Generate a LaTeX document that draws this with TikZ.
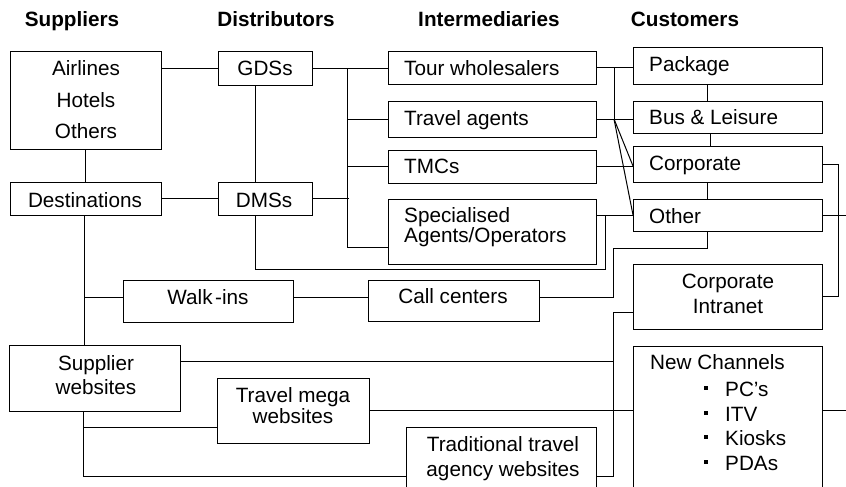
\documentclass[tikz,border=0pt]{standalone}
\usepackage{fontspec}
\setmainfont{Liberation Sans}
\usetikzlibrary{calc}
\newcommand{\dfont}{\fontsize{20.7}{24}\selectfont}
\newcommand{\tdbox}[5]{\node[box,minimum width={#4pt-#2pt},minimum height={#5pt-#3pt}] (#1) at ({(#2+#4)/2},{(#3+#5)/2}) {};}
\begin{document}
\begin{tikzpicture}[x=1pt,y=-1pt,
  box/.style={draw,line width=1pt,inner sep=0pt,outer sep=0pt,rectangle},
  conn/.style={line width=1pt},
  txt/.style={anchor=base,inner sep=0pt,font=\dfont},
  ttl/.style={anchor=base,inner sep=0pt,font=\dfont\bfseries},
  lt/.style={anchor=base west,inner sep=0pt,font=\dfont},
  bullet/.style={fill,inner sep=0pt,minimum width=3.6pt,minimum height=3.6pt}]
\path[use as bounding box] (0,0) rectangle (846,487);
\clip (0,0) rectangle (846,487);
% boxes
\tdbox{air}{10}{52}{161}{149}
\tdbox{dest}{10}{182}{161}{215}
\tdbox{gds}{218}{52}{312}{85}
\tdbox{dms}{218}{182}{312}{215}
\tdbox{tour}{388}{52}{596}{84}
\tdbox{ta}{388}{101}{596}{137}
\tdbox{tmc}{388}{150}{596}{183}
\tdbox{spec}{388}{199}{596}{264}
\tdbox{pkg}{633}{48}{822}{84}
\tdbox{bus}{633}{101}{822}{133}
\tdbox{corp}{633}{146}{822}{182}
\tdbox{other}{633}{199}{822}{231}
\tdbox{walk}{123}{280}{293}{322}
\tdbox{call}{368}{280}{539}{321}
\tdbox{intra}{633}{264}{822}{329}
\tdbox{sup}{9}{345}{180}{411}
\tdbox{mega}{217}{378}{369}{443}
\tdbox{trad}{406}{427}{596}{510}
\tdbox{newc}{633}{346}{822}{510}
% helper coordinates
\coordinate (gdsx) at (255,0);
\coordinate (ibus) at (347,0);
\coordinate (cbus) at (614,0);
\coordinate (split) at (614,119);
\coordinate (dturn) at (605,269);
\coordinate (oturn) at (613,248);
\coordinate (rturn) at (838,0);
\coordinate (wbot) at (613,476);
\coordinate (edge) at (846,0);
% titles
\node[ttl] (hsup) at (72,27) {Suppliers};
\node[ttl] (hdist) at (276,27) {Distributors};
\node[ttl] (hint) at (489,27) {Intermediaries};
\node[ttl] (hcus) at (685,27) {Customers};
% texts
\node[txt] (t1) at (86,76) {Airlines};
\node[txt] (t2) at (86,107) {Hotels};
\node[txt] (t3) at (86,138) {Others};
\node[txt] (t4) at (265,76) {GDSs};
\node[txt] (t5) at (85,207) {Destinations};
\node[txt] (t6) at (264,207) {DMSs};
\node[lt] (t7) at (404,76) {Tour wholesalers};
\node[lt] (t8) at (404,125) {Travel agents};
\node[lt] (t9) at (404,173) {TMCs};
\node[lt] (t10) at (404,222) {Specialised};
\node[lt] (t11) at (404,242) {Agents/Operators};
\node[lt] (t12) at (649,72) {Package};
\node[lt] (t13) at (649,124) {Bus \& Leisure};
\node[lt] (t14) at (649,170) {Corporate};
\node[lt] (t15) at (649,223) {Other};
\node[txt] (t16) at (208,304) {Walk\kern2.5pt-ins};
\node[txt] (t17) at (453,303) {Call centers};
\node[txt] (t18) at (728,288) {Corporate};
\node[txt] (t19) at (728,313) {Intranet};
\node[txt] (t20) at (96,370) {Supplier};
\node[txt] (t21) at (96,394) {websites};
\node[txt] (t22) at (293,402) {Travel mega};
\node[txt] (t23) at (293,423) {websites};
\node[txt] (t24) at (503,451) {Traditional travel};
\node[txt] (t25) at (503,476) {agency websites};
\node[lt] (t26) at (650,369) {New Channels};
\node[bullet] (b1) at (706,388) {};
\node[bullet] (b2) at (706,413) {};
\node[bullet] (b3) at (706,437) {};
\node[bullet] (b4) at (706,462) {};
\node[lt] (t27) at (725,396) {PC’s};
\node[lt] (t28) at (725,421) {ITV};
\node[lt] (t29) at (725,445) {Kiosks};
\node[lt] (t30) at (725,470) {PDAs};
% connectors
\draw[conn] (air.east |- gds.west) -- (gds.west);
\draw[conn] (air.south) -- (dest.north);
\draw[conn] (dest.east) -- (dms.west);
\draw[conn] (gds.south -| gdsx) -- (dms.north -| gdsx);
\draw[conn] (dms.south -| gdsx) |- (dturn) -- (dturn |- other.west);
\draw[conn] (gds.east) -- (gds.east -| tour.west);
\draw[conn] (ibus |- gds.east) |- ([yshift=-15.5pt]spec.west);
\draw[conn] (ibus |- ta.west) -- (ta.west);
\draw[conn] (ibus |- tmc.west) -- (tmc.west);
\draw[conn] (dms.east) -- ([xshift=2pt]ibus |- dms.east);
\draw[conn] (tour.east) -- (tour.east -| pkg.west);
\draw[conn] (cbus |- tour.east) -- (split);
\draw[conn] (ta.east) -- (ta.east -| bus.west);
\draw[conn] (split) -- ([yshift=-2pt]corp.west);
\draw[conn] (split) -- (other.west);
\draw[conn] (tmc.east) -- (tmc.east -| corp.west);
\draw[conn] (spec.east |- other.west) -- (other.west);
\draw[conn] ([xshift=-20pt]pkg.south) -- ([xshift=-20pt]bus.north);
\draw[conn] ([xshift=-17.5pt]bus.south) -- ([xshift=-17.5pt]corp.north);
\draw[conn] ([xshift=-20pt]corp.south) -- ([xshift=-20pt]other.north);
\draw[conn] ([xshift=-20pt]other.south) |- (oturn) |- ([yshift=3.5pt]call.east);
\draw[conn] (corp.east) -| (rturn |- intra.east) -- (intra.east);
\draw[conn] (other.east) -- (other.east -| edge);
\draw[conn] (mega.east) -- (mega.east -| newc.west);
\draw[conn] (newc.east |- mega.east) -- (edge |- mega.east);
\draw[conn] ([xshift=-1pt]dest.south) -- ([xshift=-1pt]dest.south |- sup.north);
\draw[conn] ([yshift=4pt]walk.west) -- ([yshift=4pt,xshift=-1pt]walk.west -| dest.south);
\draw[conn] ([yshift=4pt]walk.east) -- ([yshift=4pt]walk.east -| call.west);
\draw[conn] ([yshift=-15.5pt]intra.west) -| (wbot) -- (wbot -| trad.east);
\draw[conn] ([yshift=16.5pt]sup.east) coordinate (s1) -- (s1 -| wbot);
\draw[conn] ([xshift=-11pt]sup.south) coordinate (s2) |- ([yshift=-16.5pt]mega.west);
\draw[conn] (s2) |- (trad.west |- wbot);
\end{tikzpicture}
\end{document}
